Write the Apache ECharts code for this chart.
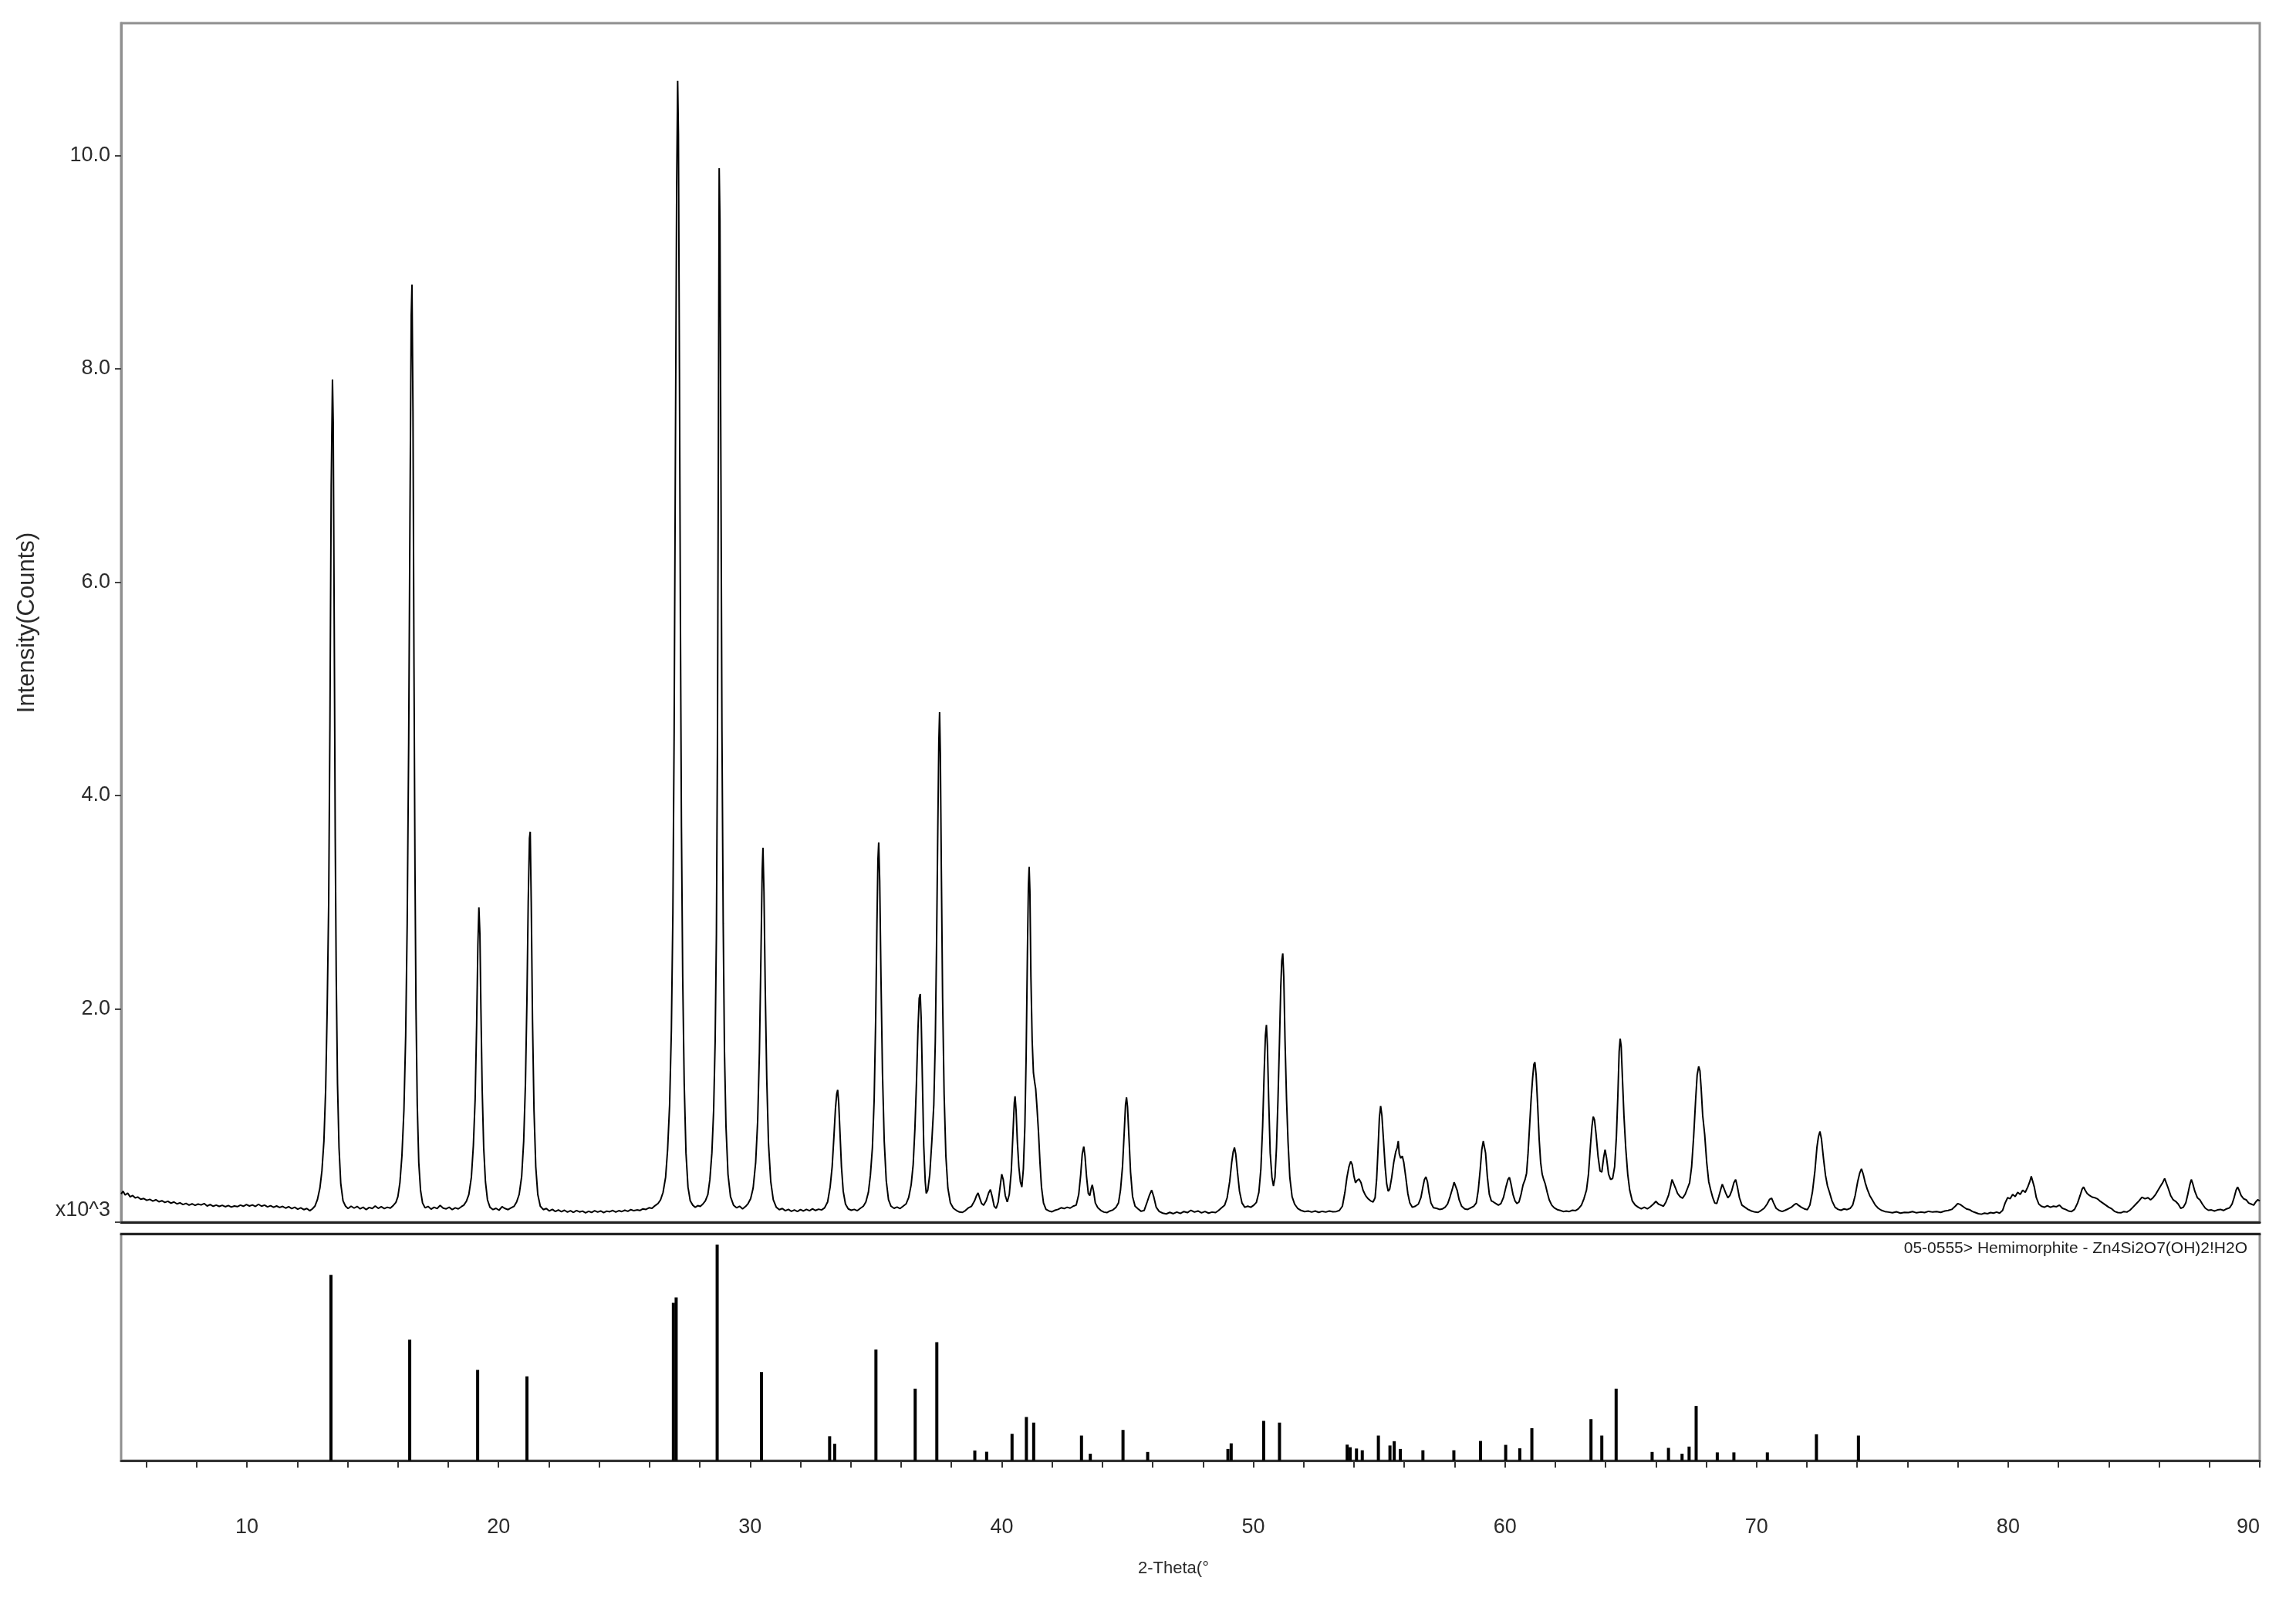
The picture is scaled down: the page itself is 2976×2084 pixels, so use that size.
<!DOCTYPE html>
<html>
<head>
<meta charset="utf-8">
<script src="https://cdn.jsdelivr.net/npm/echarts@6/dist/echarts.min.js"></script>
<style>
html,body{margin:0;padding:0;background:#fff;}
#chart{width:2976px;height:2084px;}
</style>
</head>
<body>
<div id="chart"></div>
<script>
// ---- DATA ----
// Measured pattern: [2-theta (deg), intensity (counts)]
const patternPoints = [
[5.00,265],[5.08,290],[5.16,255],[5.26,272],[5.36,238],[5.46,250],[5.56,228],[5.66,236],[5.78,215],[5.90,222],[6.02,205],[6.14,214],[6.26,198],[6.38,210],[6.50,192],[6.62,201],[6.74,185],[6.86,196],[6.98,178],[7.10,190],[7.22,172],[7.34,182],[7.46,165],[7.58,176],[7.70,160],[7.82,172],[7.94,158],[8.06,170],[8.18,162],[8.30,175],[8.42,152],[8.54,166],[8.66,150],[8.78,160],[8.90,148],[9.02,158],[9.14,145],[9.26,156],[9.38,142],[9.50,152],[9.62,146],[9.74,160],[9.86,150],[9.98,165],[10.10,152],[10.22,162],[10.34,148],[10.46,168],[10.58,150],[10.70,160],[10.82,144],[10.94,155],[11.06,140],[11.18,152],[11.30,138],[11.42,148],[11.54,132],[11.66,145],[11.78,128],[11.90,140],[12.02,122],[12.14,135],[12.26,118],[12.38,128],[12.50,108],[12.60,125],[12.70,150],
[12.80,210],[12.90,320],[12.98,480],[13.06,760],[13.13,1250],[13.19,2000],[13.25,3000],[13.30,4700],[13.35,6900],[13.40,7900],[13.43,7500],[13.47,5600],[13.51,3600],[13.55,2300],[13.60,1300],[13.66,700],[13.73,360],[13.82,200],[13.92,150],
[14.02,128],[14.14,150],[14.26,132],[14.38,148],[14.50,125],[14.62,140],[14.74,118],[14.86,138],[14.98,128],[15.10,152],[15.22,130],[15.34,145],[15.46,128],[15.58,140],[15.70,132],[15.82,158],[15.92,185],
[16.00,240],[16.08,370],[16.16,620],[16.24,1050],[16.31,1750],[16.37,2800],[16.43,4500],[16.48,6600],[16.53,8500],[16.56,8790],[16.60,7600],[16.64,5200],[16.68,3300],[16.72,2000],[16.77,1100],[16.83,560],[16.90,300],[16.98,180],[17.08,135],
[17.20,148],[17.32,122],[17.44,140],[17.56,128],[17.68,158],[17.80,132],[17.92,125],[18.04,140],[18.16,118],[18.28,135],[18.40,125],[18.52,145],[18.62,160],[18.72,195],
[18.82,260],[18.92,420],[19.00,720],[19.07,1150],[19.13,1850],[19.18,2600],[19.22,2950],[19.26,2700],[19.30,2000],[19.35,1250],[19.41,700],[19.48,380],[19.56,210],[19.66,140],
[19.78,118],[19.90,130],[20.02,112],[20.14,145],[20.26,128],[20.38,118],[20.50,135],[20.62,150],[20.72,190],
[20.82,260],[20.92,430],[21.00,760],[21.07,1300],[21.13,2100],[21.18,3000],[21.23,3600],[21.26,3660],[21.30,3000],[21.35,1900],[21.41,1050],[21.48,520],[21.56,260],[21.66,150],
[21.78,118],[21.90,128],[22.02,105],[22.14,120],[22.26,100],[22.38,115],[22.50,98],[22.62,112],[22.74,95],[22.86,108],[22.98,92],[23.10,110],[23.22,96],[23.34,104],[23.46,88],[23.58,102],[23.70,92],[23.82,108],[23.94,95],[24.06,105],[24.18,90],[24.30,104],[24.42,98],[24.54,110],[24.66,95],[24.78,108],[24.90,100],[25.02,112],[25.14,102],[25.26,118],[25.38,108],[25.50,115],[25.62,110],[25.74,125],[25.86,120],[25.98,135],[26.10,130],[26.22,155],[26.34,175],[26.44,210],[26.54,280],
[26.64,420],[26.72,680],[26.80,1100],[26.87,1800],[26.93,2900],[26.98,4600],[27.03,7200],[27.08,9700],[27.12,10700],[27.15,10200],[27.19,8000],[27.23,5600],[27.27,3700],[27.32,2300],[27.38,1300],[27.45,650],[27.53,330],[27.62,200],[27.72,160],[27.82,140],[27.92,155],[28.02,148],[28.12,170],[28.22,200],[28.32,260],
[28.40,400],[28.48,650],[28.55,1050],[28.61,1700],[28.66,2700],[28.70,4400],[28.74,7400],[28.77,9880],[28.80,9400],[28.84,7000],[28.88,4600],[28.93,2800],[28.98,1600],[29.04,900],[29.12,450],[29.22,240],[29.34,160],[29.46,135],[29.58,150],[29.70,125],[29.82,148],[29.92,175],[30.02,220],
[30.12,320],[30.22,560],[30.30,950],[30.37,1600],[30.43,2500],[30.48,3300],[30.51,3510],[30.55,3100],[30.60,2200],[30.66,1350],[30.73,740],[30.82,380],[30.92,210],[31.04,140],
[31.16,118],[31.28,128],[31.40,108],[31.52,120],[31.64,102],[31.76,115],[31.88,100],[32.00,118],[32.12,105],[32.24,120],[32.36,108],[32.48,125],[32.60,110],[32.72,122],[32.84,115],[32.96,135],[33.08,190],[33.18,330],
[33.26,520],[33.33,800],[33.39,1060],[33.44,1200],[33.48,1240],[33.52,1120],[33.57,850],[33.63,520],[33.70,290],[33.79,170],[33.90,125],[34.02,112],[34.14,120],[34.26,108],[34.38,130],[34.50,150],[34.60,190],[34.70,280],
[34.78,440],[34.86,700],[34.93,1150],[34.99,1900],[35.04,2800],[35.08,3400],[35.11,3560],[35.15,3200],[35.20,2300],[35.26,1400],[35.33,760],[35.41,390],[35.50,210],[35.60,150],[35.72,130],[35.84,142],[35.96,128],[36.08,150],[36.20,172],[36.30,230],[36.40,350],
[36.48,540],[36.55,880],[36.61,1300],[36.67,1800],[36.72,2100],[36.76,2140],[36.80,1900],[36.85,1300],[36.90,720],[36.96,380],[37.00,270],[37.06,300],[37.14,450],[37.22,750],[37.30,1100],[37.36,1700],[37.41,2600],[37.46,3700],[37.50,4500],[37.53,4780],[37.56,4400],[37.60,3300],[37.65,2100],[37.71,1200],[37.78,620],[37.86,320],[37.96,180],[38.08,130],[38.20,110],[38.32,95],[38.44,92],[38.56,110],[38.68,135],[38.80,150],[38.92,200],
[39.00,250],[39.06,275],[39.12,230],[39.20,175],[39.28,160],[39.38,200],[39.48,275],[39.55,305],[39.62,240],[39.70,150],[39.78,130],[39.86,190],[39.94,340],[40.00,450],[40.06,400],[40.14,250],[40.22,190],[40.30,260],[40.38,480],[40.45,850],[40.50,1120],[40.53,1180],[40.57,1050],[40.62,760],[40.68,520],[40.74,380],[40.80,330],[40.86,500],[40.92,900],[40.97,1550],[41.02,2500],[41.06,3150],[41.09,3330],[41.12,3100],[41.16,2300],[41.21,1700],[41.26,1400],[41.31,1310],[41.35,1250],[41.40,1080],[41.46,850],[41.52,560],[41.58,330],[41.66,180],[41.76,120],[41.88,105],[42.00,98],[42.12,112],[42.24,120],[42.36,135],[42.48,128],[42.60,140],[42.72,132],[42.84,150],[42.96,160],[43.06,260],[43.14,450],
[43.20,640],[43.26,710],[43.31,620],[43.37,430],[43.44,270],[43.50,250],[43.56,320],[43.60,350],[43.65,290],[43.72,180],[43.82,135],[43.94,110],[44.06,95],[44.18,90],[44.30,105],[44.42,115],[44.54,140],[44.64,180],[44.72,300],[44.80,520],[44.87,850],[44.92,1100],[44.96,1170],[45.00,1080],[45.06,780],[45.12,470],[45.20,240],[45.30,150],[45.42,125],[45.54,102],[45.66,110],[45.78,190],[45.88,260],[45.96,300],[46.04,240],[46.14,140],[46.26,100],[46.40,85],[46.54,78],[46.68,92],[46.82,80],[46.96,95],[47.10,82],[47.24,100],[47.38,90],[47.52,112],[47.66,95],[47.80,105],[47.94,88],[48.08,100],[48.22,85],[48.36,95],[48.50,90],[48.62,110],[48.74,135],[48.86,160],[48.96,230],[49.06,380],
[49.14,560],[49.20,660],[49.25,700],[49.30,640],[49.37,470],[49.45,290],[49.55,180],[49.66,140],[49.78,150],[49.90,140],[50.02,160],[50.12,185],[50.22,280],[50.30,500],[50.37,900],[50.43,1400],[50.48,1750],[50.52,1850],[50.56,1650],[50.61,1150],[50.67,650],[50.74,420],[50.80,340],[50.86,420],[50.92,700],[50.98,1150],[51.04,1700],[51.09,2200],[51.13,2450],[51.17,2520],[51.21,2300],[51.26,1700],[51.32,1150],[51.38,750],[51.45,420],[51.54,240],[51.64,170],[51.76,130],[51.90,110],[52.04,100],[52.18,105],[52.32,95],[52.46,105],[52.60,92],[52.74,102],[52.88,95],[53.02,105],[53.16,98],[53.30,100],[53.42,110],[53.54,150],[53.64,280],[53.72,420],
[53.80,520],[53.87,570],[53.93,540],[54.00,430],[54.06,370],[54.12,390],[54.20,405],[54.28,370],[54.36,300],[54.46,250],[54.56,220],[54.66,200],[54.76,190],[54.84,230],[54.90,400],[54.96,700],[55.01,980],[55.06,1090],[55.11,1000],[55.17,780],[55.24,520],[55.30,360],[55.36,290],[55.42,310],[55.50,420],[55.58,560],[55.66,660],[55.72,700],[55.76,760],[55.80,640],[55.86,600],[55.92,620],[55.98,560],[56.06,420],[56.14,270],[56.22,180],[56.32,140],[56.44,150],[56.56,170],[56.66,230],[56.74,330],[56.80,400],[56.86,425],[56.92,380],[56.98,280],[57.06,180],[57.16,135],[57.28,130],[57.40,120],[57.52,125],[57.62,140],[57.72,170],[57.82,240],[57.92,320],[57.98,375],[58.04,370],[58.10,300],[58.18,210],[58.28,150],[58.40,125],[58.52,120],[58.64,135],[58.76,150],[58.86,180],[58.94,300],[59.02,500],[59.08,680],[59.14,760],[59.18,770],[59.23,650],[59.30,430],[59.38,260],[59.46,200],[59.54,190],[59.64,175],[59.74,160],[59.84,175],[59.94,230],[60.04,330],[60.12,400],[60.18,420],[60.24,360],[60.32,260],[60.40,200],[60.48,175],[60.56,190],[60.64,260],[60.72,350],[60.80,400],[60.86,460],[60.92,650],[60.98,900],[61.04,1150],[61.10,1350],[61.15,1480],[61.19,1500],[61.24,1380],[61.30,1100],[61.36,780],[61.42,560],[61.48,450],[61.54,400],[61.60,360],[61.68,280],[61.76,210],[61.86,160],[61.96,135],[62.08,118],[62.20,110],[62.32,100],[62.44,105],[62.56,100],[62.68,112],[62.80,108],[62.92,125],[63.04,160],[63.14,220],[63.24,300],[63.32,450],
[63.40,720],[63.46,900],[63.51,990],[63.56,960],[63.62,830],[63.70,620],[63.78,480],[63.85,470],[63.92,600],[63.98,680],[64.04,600],[64.12,450],[64.20,400],[64.28,410],[64.36,520],[64.43,800],[64.49,1200],[64.54,1600],[64.58,1720],[64.62,1650],[64.67,1350],[64.73,1000],[64.80,700],[64.88,450],[64.96,300],[65.06,200],[65.18,160],[65.30,140],[65.42,125],[65.54,140],[65.66,125],[65.78,145],[65.90,170],[66.00,195],[66.10,170],[66.20,160],[66.30,150],[66.40,190],[66.50,250],[66.58,330],[66.64,400],[66.70,410],[66.78,320],[66.86,270],[66.96,240],[67.06,225],[67.16,260],[67.26,320],[67.34,370],[67.42,520],[67.50,800],[67.58,1150],[67.64,1380],[67.70,1460],[67.75,1420],[67.80,1250],[67.86,1000],[67.94,820],[68.02,560],[68.10,380],[68.18,300],[68.26,230],[68.34,180],[68.42,175],[68.50,240],[68.58,310],[68.64,355],[68.70,320],[68.78,270],[68.86,230],[68.94,250],[69.02,300],[69.10,370],[69.17,400],[69.24,330],[69.32,230],[69.42,160],[69.54,140],[69.66,120],[69.80,105],[69.94,95],[70.06,92],[70.18,110],[70.30,130],[70.42,170],[70.52,215],[70.60,225],[70.68,180],[70.78,130],[70.90,110],[71.02,100],[71.14,112],[71.26,125],[71.38,140],[71.50,165],[71.58,175],[71.66,160],[71.78,140],[71.90,125],[72.02,118],[72.12,160],[72.22,280],[72.32,480],[72.40,700],[72.46,800],[72.52,850],[72.58,780],[72.66,600],[72.74,440],[72.82,340],[72.90,280],[73.00,200],[73.12,140],[73.24,120],[73.36,112],[73.48,125],[73.60,118],[73.72,130],[73.82,160],[73.92,250],[74.02,380],[74.10,460],[74.17,500],[74.24,450],[74.32,370],[74.40,310],[74.50,250],[74.60,210],[74.72,160],[74.84,130],[74.96,112],[75.10,100],[75.24,95],[75.40,88],[75.56,98],[75.72,85],[75.88,92],[76.04,90],[76.20,100],[76.36,88],[76.52,95],[76.68,90],[76.84,102],[77.00,95],[77.16,100],[77.32,92],[77.48,105],[77.62,110],[77.76,120],[77.90,150],[78.00,175],[78.10,165],[78.22,145],[78.34,125],[78.46,118],[78.58,100],[78.70,90],[78.82,80],[78.94,75],[79.06,85],[79.18,80],[79.30,90],[79.42,85],[79.54,95],[79.66,85],[79.78,110],[79.88,180],[79.98,230],[80.08,220],[80.18,260],[80.28,240],[80.38,280],[80.48,260],[80.58,300],[80.68,280],[80.78,330],[80.86,380],[80.92,430],[80.98,420],[81.04,330],[81.12,230],[81.22,170],[81.32,150],[81.44,140],[81.56,155],[81.68,140],[81.80,150],[81.92,145],[82.04,160],[82.16,130],[82.28,120],[82.40,105],[82.52,100],[82.64,120],[82.76,180],[82.86,250],[82.94,310],[83.00,330],[83.06,300],[83.14,270],[83.24,250],[83.34,235],[83.44,230],[83.54,220],[83.64,200],[83.76,180],[83.88,160],[84.00,140],[84.12,125],[84.24,100],[84.36,90],[84.48,88],[84.60,100],[84.72,95],[84.84,112],[84.96,140],[85.08,170],[85.20,200],[85.32,235],[85.44,220],[85.56,230],[85.66,210],[85.76,230],[85.86,260],[85.96,300],[86.06,340],[86.14,370],[86.22,410],[86.28,400],[86.36,320],[86.46,250],[86.56,210],[86.66,195],[86.76,170],[86.86,130],[86.96,140],[87.06,180],[87.14,260],[87.22,350],[87.28,400],[87.34,360],[87.42,290],[87.52,230],[87.62,210],[87.72,170],[87.84,130],[87.96,112],[88.08,115],[88.20,105],[88.32,115],[88.44,120],[88.56,110],[88.68,125],[88.80,135],[88.90,170],[88.98,230],[89.06,300],[89.12,330],[89.18,300],[89.26,250],[89.36,220],[89.46,210],[89.56,180],[89.66,170],[89.76,160],[89.84,190],[89.92,210],[90.00,200]
];

// Reference card 05-0555 Hemimorphite: [2-theta (deg), relative intensity (%)]
const refSticks = [
[13.34,86],[16.47,56],[19.17,42],[21.13,39],[26.95,73],[27.06,75.5],[28.69,100],[30.45,41],
[33.16,11.3],[33.36,7.8],[35.00,51.4],[36.56,33.3],[37.42,54.8],[38.93,4.7],[39.40,4.1],
[40.41,12.4],[40.98,20.2],[41.27,17.6],[43.17,11.6],[43.52,3.2],[44.82,14.2],[45.80,4.0],
[48.99,5.4],[49.12,8.0],[50.41,18.4],[51.04,17.6],[53.73,7.4],[53.85,6.2],[54.10,5.6],[54.33,4.8],
[54.97,11.6],[55.43,7.0],[55.60,9.0],[55.84,5.4],[56.74,4.8],[57.97,4.8],[59.03,9.1],[60.03,7.3],
[60.59,5.7],[61.07,15.0],[63.42,19.2],[63.85,11.6],[64.42,33.3],[65.85,4.0],[66.50,5.9],[67.04,3.2],
[67.32,6.5],[67.60,25.3],[68.44,3.8],[69.10,3.8],[70.43,3.8],[72.38,12.2],[74.05,11.6]
];

const refCardLabel = '05-0555> Hemimorphite - Zn4Si2O7(OH)2!H2O';
const xLabelValues = [10, 20, 30, 40, 50, 60, 70, 80, 90];
const xTickValues = [6,8,10,12,14,16,18,20,22,24,26,28,30,32,34,36,38,40,42,44,46,48,50,52,54,56,58,60,62,64,66,68,70,72,74,76,78,80,82,84,86,88,90];
const yLabelValues = [0, 2000, 4000, 6000, 8000, 10000];
const xTitle = '2-Theta(\u00B0';
const yTitle = 'Intensity(Counts)';

// ---- FONT PICK (condensed face if installed) ----
function fontInstalled(name) {
  const ctx = document.createElement('canvas').getContext('2d');
  const s = 'Intensity 0123456789 Hemimorphite';
  ctx.font = '40px monospace';
  const w0 = ctx.measureText(s).width;
  ctx.font = "40px '" + name + "', monospace";
  return Math.abs(ctx.measureText(s).width - w0) > 0.5;
}
const narrow = fontInstalled('Liberation Sans Narrow');
const FONT = narrow ? "'Liberation Sans Narrow', 'Liberation Sans', Arial, sans-serif" : "'Liberation Sans', Arial, sans-serif";
const k = narrow ? 1 : 0.82;
const FS = {
  tick: Math.round(33 * k),
  xTitle: Math.round(27 * k),
  yTitle: Math.round(38 * k),
  card: Math.round(26 * k)
};
const TXT = '#2b2b2b';

// ---- CHART ----
const chart = echarts.init(document.getElementById('chart'), null, {renderer: 'canvas'});
const option = {
  animation: false,
  backgroundColor: '#ffffff',
  title: {
    text: refCardLabel,
    right: 58,
    top: 1603,
    textStyle: {fontFamily: FONT, fontSize: FS.card, fontWeight: 'normal', color: '#1e1e1e'}
  },
  grid: [
    {left: 157, right: 47, top: 30, height: 1554, show: true, borderColor: '#8f8f8f', borderWidth: 3, backgroundColor: 'transparent'},
    {left: 157, right: 47, top: 1599, height: 294, show: true, borderColor: '#8f8f8f', borderWidth: 3, backgroundColor: 'transparent'}
  ],
  xAxis: [
    {
      type: 'value', gridIndex: 0, min: 5, max: 90, position: 'bottom',
      axisLine: {show: true, onZero: false, lineStyle: {color: '#222', width: 3}},
      axisTick: {show: false}, axisLabel: {show: false}, splitLine: {show: false}
    },
    {
      type: 'value', gridIndex: 1, min: 5, max: 90, position: 'bottom',
      name: xTitle, nameLocation: 'middle', nameGap: Math.round(2033 - 1893 - 0.5 * FS.xTitle),
      nameTextStyle: {fontFamily: FONT, fontSize: FS.xTitle, color: TXT, padding: [0, 44, 0, 0]},
      axisLine: {show: true, onZero: false, lineStyle: {color: '#333', width: 3}},
      axisTick: {show: true, inside: false, length: 9, customValues: xTickValues, lineStyle: {color: '#333', width: 2}},
      axisLabel: {
        show: true, customValues: xLabelValues, margin: Math.round(1978 - 1893 - 0.43 * FS.tick),
        alignMaxLabel: 'right',
        fontFamily: FONT, fontSize: FS.tick, color: TXT
      },
      splitLine: {show: false}
    },
    {
      type: 'value', gridIndex: 1, min: 5, max: 90, position: 'top',
      axisLine: {show: true, onZero: false, lineStyle: {color: '#222', width: 3}},
      axisTick: {show: false}, axisLabel: {show: false}, splitLine: {show: false}
    }
  ],
  yAxis: [
    {
      type: 'value', gridIndex: 0, min: 0, max: 11240,
      name: yTitle, nameLocation: 'middle', nameGap: Math.round(123 - 0.55 * FS.yTitle), nameRotate: 90,
      nameTextStyle: {fontFamily: FONT, fontSize: FS.yTitle, color: TXT},
      axisLine: {show: true, lineStyle: {color: '#8f8f8f', width: 3}},
      axisTick: {show: true, inside: false, length: 8, customValues: yLabelValues, lineStyle: {color: '#444', width: 2}},
      axisLabel: {
        show: true, customValues: yLabelValues, margin: 14,
        fontFamily: FONT, fontSize: FS.tick, color: TXT,
        formatter: function (v) { return v === 0 ? '{u|x10^3}' : (v / 1000).toFixed(1); },
        rich: {u: {fontFamily: FONT, fontSize: FS.tick, color: TXT, padding: [0, 0, 30, 0]}}
      },
      splitLine: {show: false}
    },
    {
      type: 'value', gridIndex: 1, min: 0, max: 105,
      axisLine: {show: false}, axisTick: {show: false}, axisLabel: {show: false}, splitLine: {show: false}
    }
  ],
  series: [
    {
      type: 'line', xAxisIndex: 0, yAxisIndex: 0,
      data: patternPoints, showSymbol: false, symbol: 'none',
      lineStyle: {color: '#000', width: 2}, clip: true
    },
    {
      type: 'bar', xAxisIndex: 1, yAxisIndex: 1,
      data: refSticks, barWidth: 4, itemStyle: {color: '#000'}
    }
  ]
};
chart.setOption(option);
</script>
</body>
</html>
